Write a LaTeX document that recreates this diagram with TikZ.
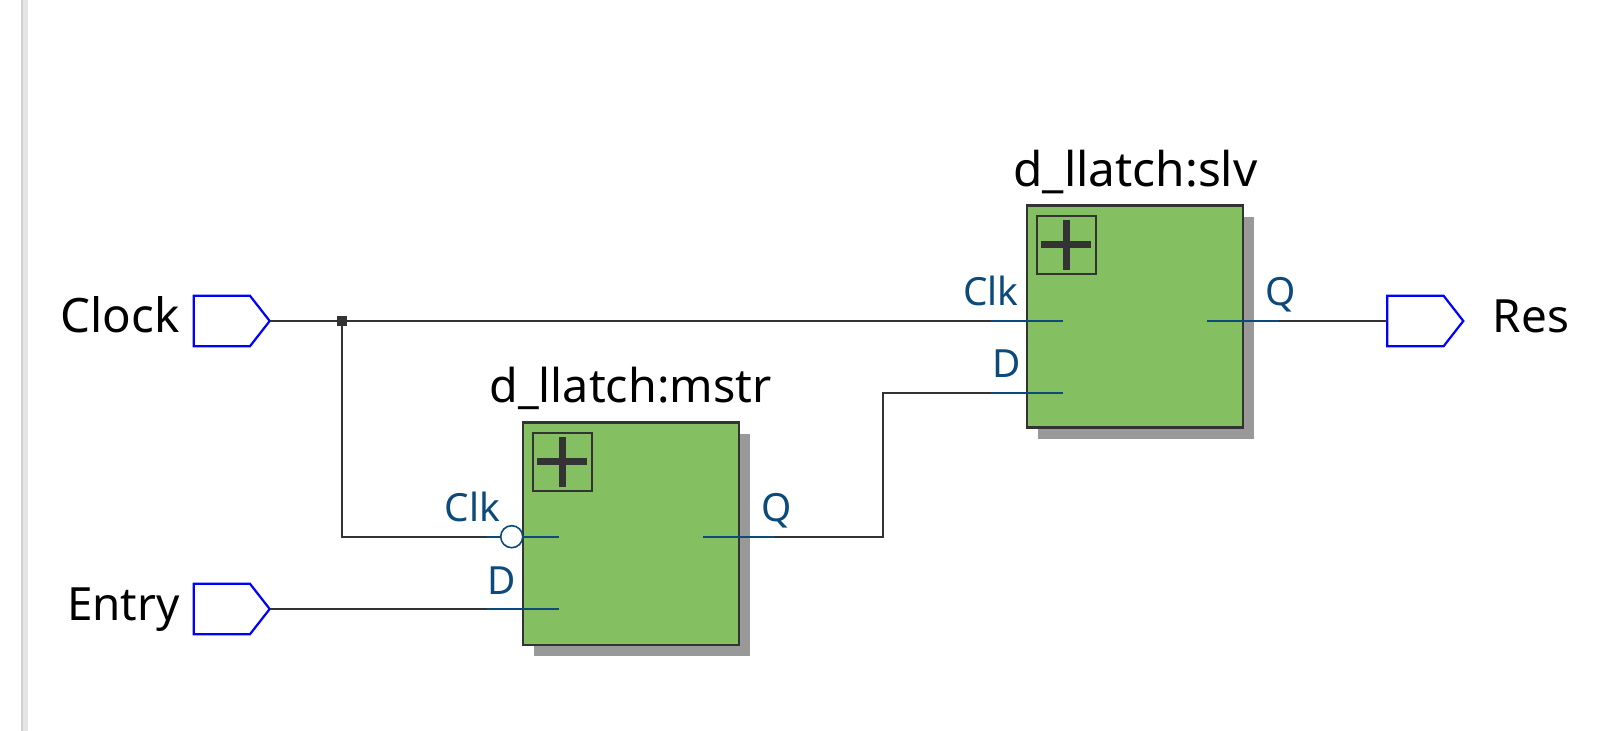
\documentclass[tikz,border=0pt]{standalone}
\usepackage{fontspec}
\setmainfont{Noto Sans}
\usetikzlibrary{shapes.symbols,shadows}
\definecolor{wirec}{HTML}{333333}
\definecolor{pinc}{HTML}{0B4A7A}
\definecolor{blockc}{HTML}{84C062}
\definecolor{shadowc}{HTML}{999999}
\tikzset{
 x=0.5pt,y=-0.5pt,
 wire/.style={draw=wirec,line width=1pt},
 stub/.style={draw=pinc,line width=1pt},
 port/.style={shape=signal,signal to=east,signal pointer angle=104,draw=blue,line width=1.1pt,fill=white,minimum width=38pt,minimum height=25.2pt,inner sep=0pt,outer sep=0pt,anchor=west},
 block/.style={draw=wirec,line width=1.2pt,fill=blockc,minimum width=108pt,minimum height=111pt,inner sep=0pt,outer sep=0pt,anchor=north west,general shadow={shadow xshift=5.5pt,shadow yshift=-5.5pt,fill=shadowc}},
 expbox/.style={draw=wirec,line width=1pt,minimum width=29.3pt,minimum height=29.2pt,inner sep=0pt,outer sep=0pt,anchor=north west},
 bar/.style={draw=wirec,line width=3.4pt},
 big/.style={text=black,inner sep=0pt},
 pinl/.style={font=\fontsize{19.4}{22}\selectfont,text=pinc,inner sep=0pt},
 bubble/.style={circle,draw=pinc,line width=0.8pt,fill=white,minimum size=11pt,inner sep=0pt,outer sep=0pt},
 dotn/.style={rectangle,fill=wirec,minimum size=5pt,inner sep=0pt,outer sep=0pt},
}
\newcommand{\bigfs}[1]{\fontsize{#1}{26}\selectfont}
\begin{document}
\begin{tikzpicture}
\useasboundingbox (0,0) rectangle (1600,731);
\fill[white] (0,0) rectangle (1600,731);
\fill[black!10] (21,0) rectangle (28,731);
\fill[black!18] (21,0) rectangle (23,731);
% ports
\node[port] (clockp) at (193.7,321) {};
\node[port] (entryp) at (193.7,609) {};
\node[port] (resp) at (1387.3,321) {};
% blocks
\node[block] (mstr) at (522.7,422.7) {};
\node[block] (slv) at (1026.7,205.7) {};
\node[expbox] (mbox) at (533,432.7) {};
\node[expbox] (sbox) at (1037,216) {};
% pin coordinates
\coordinate (mclk) at (558.7,536.7);
\coordinate (mclkw) at (486.7,536.7);
\coordinate (md) at (558.7,609);
\coordinate (mdw) at (486.7,609);
\coordinate (mq) at (703,536.7);
\coordinate (mqw) at (775,536.7);
\coordinate (sclk) at (1062.7,321);
\coordinate (sclkw) at (990.7,321);
\coordinate (sd) at (1062.7,392.7);
\coordinate (sdw) at (990.7,392.7);
\coordinate (sq) at (1207,321);
\coordinate (sqw) at (1279,321);
\coordinate (bendr) at (883,536.7);
\coordinate (bendu) at (883,392.7);
\node[dotn] (junc) at (342,321) {};
\coordinate (jdown) at (342,536.7);
% wires
\draw[wire] (clockp.east) -- (junc) -- (sclkw);
\draw[wire] (junc) -- (jdown) -- (mclkw);
\draw[wire] (entryp.east) -- (mdw);
\draw[wire] (mqw) -- (bendr) -- (bendu) -- (sdw);
\draw[wire] (sqw) -- (resp.west);
% stubs
\draw[stub] (mclkw) -- (mclk);
\draw[stub] (mdw) -- (md);
\draw[stub] (mq) -- (mqw);
\draw[stub] (sclkw) -- (sclk);
\draw[stub] (sdw) -- (sd);
\draw[stub] (sq) -- (sqw);
\node[bubble] (mbub) at (511.7,536.7) {};
% plus signs
\draw[bar] (537,461.5) -- (587,461.5);
\draw[bar] (562.3,436.7) -- (562.3,486.7);
\draw[bar] (1041,244.5) -- (1091,244.5);
\draw[bar] (1066.3,219.7) -- (1066.3,269.7);
% labels
\node[big,anchor=base east,font=\bigfs{23.7}] (lclock) at (180,332.5) {Clock};
\node[big,anchor=base east,font=\bigfs{22.9}] (lentry) at (180,620.5) {Entry};
\node[big,anchor=base west,font=\bigfs{22.9}] (lres) at (1492.5,332.5) {Res};
\node[big,anchor=base,font=\bigfs{23.3}] (lmstr) at (630.5,402.5) {d\_llatch:mstr};
\node[big,anchor=base,font=\bigfs{23.9}] (lslv) at (1135.5,187) {d\_llatch:slv};
\node[pinl,anchor=base east] (tmclk) at (500.5,521.7) {Clk};
\node[pinl,anchor=base east] (tmd) at (516.5,594.5) {D};
\node[pinl,anchor=base west] (tmq) at (761,521.7) {Q};
\node[pinl,anchor=base east] (tsclk) at (1019,305.5) {Clk};
\node[pinl,anchor=base east] (tsd) at (1021,377.5) {D};
\node[pinl,anchor=base west] (tsq) at (1265,305.5) {Q};
\end{tikzpicture}
\end{document}
